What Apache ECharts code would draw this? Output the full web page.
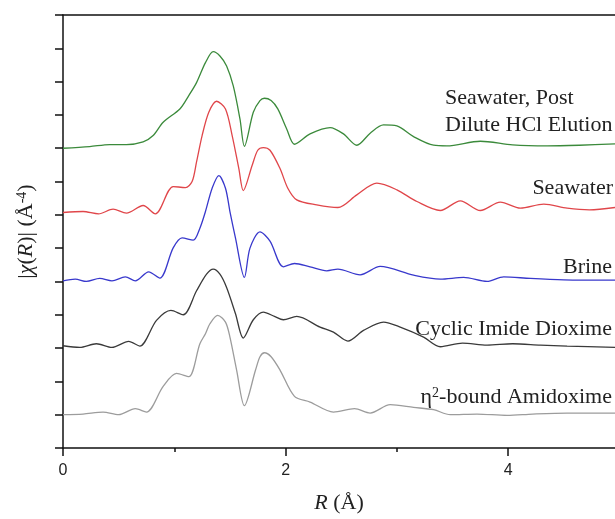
<!DOCTYPE html>
<html>
<head>
<meta charset="utf-8">
<script src="https://cdn.jsdelivr.net/npm/echarts@6/dist/echarts.min.js"></script>
<style>html,body{margin:0;padding:0;background:#fff}#c{width:615px;height:519px}</style>
</head>
<body>
<div id="c"></div>
<script>
// ---- data (values include the vertical stacking offset) ----
const seriesNames = ["Seawater, Post Dilute HCl Elution", "Seawater", "Brine", "Cyclic Imide Dioxime", "η2-bound Amidoxime"];

const greenR = [0, 0.24, 0.42, 0.57, 0.72, 0.81, 0.90, 1.05, 1.13, 1.20, 1.28, 1.35, 1.41, 1.47, 1.53, 1.59, 1.63, 1.71, 1.77, 1.81, 1.87, 1.93, 2.01, 2.08, 2.22, 2.40, 2.52, 2.64, 2.76, 2.88, 3.0, 3.15, 3.33, 3.45, 3.75, 4.04, 4.35, 4.64, 4.96];
const greenY = [9.0, 9.05, 9.11, 9.11, 9.19, 9.38, 9.78, 10.18, 10.58, 10.97, 11.57, 11.9, 11.77, 11.47, 10.87, 9.88, 9.06, 10.08, 10.43, 10.5, 10.43, 10.18, 9.58, 9.12, 9.43, 9.62, 9.43, 9.09, 9.45, 9.70, 9.67, 9.35, 9.09, 9.07, 9.21, 9.1, 9.07, 9.09, 9.13];

const redR = [0, 0.18, 0.32, 0.45, 0.57, 0.72, 0.83, 0.99, 1.10, 1.16, 1.20, 1.25, 1.31, 1.38, 1.46, 1.52, 1.58, 1.62, 1.70, 1.75, 1.80, 1.86, 1.95, 2.02, 2.10, 2.28, 2.47, 2.64, 2.82, 3.0, 3.18, 3.39, 3.57, 3.75, 3.93, 4.11, 4.32, 4.53, 4.73, 4.96];
const redY = [7.07, 7.10, 7.03, 7.17, 7.05, 7.28, 7.03, 7.85, 7.82, 8.0, 8.59, 9.38, 10.08, 10.41, 10.18, 9.38, 8.39, 7.73, 8.49, 8.94, 9.02, 8.94, 8.39, 7.8, 7.45, 7.30, 7.22, 7.6, 7.95, 7.75, 7.4, 7.13, 7.42, 7.13, 7.38, 7.2, 7.32, 7.2, 7.15, 7.22];

const blueR = [0, 0.11, 0.21, 0.33, 0.44, 0.56, 0.65, 0.77, 0.87, 0.99, 1.07, 1.17, 1.23, 1.28, 1.34, 1.40, 1.46, 1.50, 1.55, 1.63, 1.68, 1.77, 1.86, 1.98, 2.08, 2.22, 2.37, 2.47, 2.67, 2.85, 3.15, 3.39, 3.6, 3.81, 3.96, 4.2, 4.5, 4.96];
const blueY = [5.02, 5.07, 5.0, 5.09, 5.02, 5.14, 5.02, 5.29, 5.1, 6.01, 6.31, 6.24, 6.6, 7.1, 7.8, 8.18, 7.8, 7.1, 6.3, 5.12, 6.0, 6.49, 6.21, 5.44, 5.54, 5.44, 5.32, 5.37, 5.2, 5.45, 5.19, 5.07, 5.12, 5.0, 5.14, 5.09, 5.05, 5.04];

const blackR = [0, 0.15, 0.30, 0.44, 0.59, 0.69, 0.84, 0.97, 1.08, 1.20, 1.29, 1.35, 1.41, 1.47, 1.55, 1.62, 1.71, 1.80, 1.90, 1.98, 2.10, 2.31, 2.43, 2.56, 2.70, 2.88, 3.03, 3.24, 3.39, 3.59, 3.81, 4.04, 4.29, 4.53, 4.96];
const blackY = [3.07, 3.02, 3.13, 3.02, 3.2, 3.06, 3.83, 4.13, 4.0, 4.72, 5.22, 5.37, 5.22, 4.82, 4.03, 3.3, 3.85, 4.08, 3.95, 3.85, 3.95, 3.63, 3.48, 3.21, 3.53, 3.78, 3.63, 3.33, 3.04, 3.15, 3.09, 3.13, 3.09, 3.06, 3.02];

const grayR = [0, 0.18, 0.36, 0.5, 0.65, 0.75, 0.90, 1.02, 1.13, 1.23, 1.28, 1.32, 1.39, 1.46, 1.50, 1.56, 1.63, 1.73, 1.77, 1.81, 1.87, 1.95, 2.08, 2.22, 2.43, 2.62, 2.76, 2.94, 3.15, 3.33, 3.48, 3.72, 3.99, 4.22, 4.53, 4.96];
const grayY = [1.0, 1.02, 1.08, 1.0, 1.18, 1.08, 1.85, 2.24, 2.14, 3.13, 3.43, 3.73, 3.98, 3.78, 3.33, 2.34, 1.27, 2.34, 2.74, 2.86, 2.74, 2.34, 1.55, 1.38, 1.08, 1.18, 1.05, 1.3, 1.22, 1.15, 1.0, 1.02, 0.98, 1.02, 1.05, 1.05];

const xMajorTicks = [0, 2, 4];
const xMinorTicks = [1, 3];
const xMin = 0, xMax = 4.96, yMin = 0, yMax = 13;

// ---- chart ----
const pairs = (xs, ys) => xs.map((x, i) => [x, ys[i]]);
const colors = ["#3b8a3b", "#e0464a", "#3838cc", "#3a3a3a", "#9c9c9c"];
const allR = [greenR, redR, blueR, blackR, grayR];
const allY = [greenY, redY, blueY, blackY, grayY];

const serif = "'Liberation Serif', 'Times New Roman', serif";
const sans = "'Liberation Sans', Arial, sans-serif";
const axisCol = '#111';

const chart = echarts.init(document.getElementById('c'), null, {renderer: 'canvas'});
chart.setOption({
  animation: false,
  backgroundColor: '#fff',
  grid: {left: 63, right: 0, top: 15, bottom: 67, containLabel: false},
  xAxis: [{
    type: 'value', min: xMin, max: xMax, interval: 1, position: 'bottom',
    axisLine: {show: true, lineStyle: {color: axisCol, width: 1.5}},
    axisTick: {show: true, length: 8, customValues: xMajorTicks, lineStyle: {color: axisCol, width: 1.5}},
    splitLine: {show: false},
    axisLabel: {margin: 15, fontSize: 16, color: '#222', fontFamily: sans, customValues: xMajorTicks},
    name: '{i|R} (Å)', nameLocation: 'middle', nameGap: 44,
    nameTextStyle: {fontSize: 22, fontFamily: serif, color: '#222',
      rich: {i: {fontStyle: 'italic', fontSize: 22, fontFamily: serif, color: '#222'}}}
  }, {
    type: 'value', min: xMin, max: xMax, position: 'top',
    axisLine: {show: true, lineStyle: {color: axisCol, width: 1.5}},
    axisTick: {show: false}, axisLabel: {show: false}, splitLine: {show: false}
  }, {
    type: 'value', min: xMin, max: xMax, interval: 1, position: 'bottom', offset: 0,
    axisLine: {show: false},
    axisTick: {show: true, length: 4, customValues: xMinorTicks, lineStyle: {color: axisCol, width: 1.5}},
    axisLabel: {show: false}, splitLine: {show: false}
  }],
  yAxis: {
    type: 'value', min: yMin, max: yMax, interval: 1,
    axisLine: {show: true, lineStyle: {color: axisCol, width: 1.5}},
    axisTick: {show: true, length: 8, lineStyle: {color: axisCol, width: 1.5}},
    axisLabel: {show: false},
    splitLine: {show: false},
    name: '|{i|χ}({i|R})| (Å{sup|-4})', nameLocation: 'middle', nameGap: 26, nameRotate: 90,
    nameTextStyle: {fontSize: 22, fontFamily: serif, color: '#222',
      rich: {
        i: {fontStyle: 'italic', fontSize: 22, fontFamily: serif, color: '#222'},
        sup: {fontSize: 14, fontFamily: serif, color: '#222', verticalAlign: 'top'}
      }}
  },
  series: seriesNames.map((n, k) => ({
    name: n, type: 'line', xAxisIndex: 0,
    data: pairs(allR[k], allY[k]),
    smooth: 0.3, symbol: 'none',
    lineStyle: {color: colors[k], width: 1.3}
  })),
  graphic: [
    {type: 'text', x: 445, y: 98, style: {text: 'Seawater, Post', fontSize: 22, fontFamily: serif, fill: '#222', textAlign: 'left', textVerticalAlign: 'middle'}},
    {type: 'text', x: 445, y: 125, style: {text: 'Dilute HCl Elution', fontSize: 22, fontFamily: serif, fill: '#222', textAlign: 'left', textVerticalAlign: 'middle'}},
    {type: 'text', x: 613, y: 188, style: {text: 'Seawater', fontSize: 22, fontFamily: serif, fill: '#222', textAlign: 'right', textVerticalAlign: 'middle'}},
    {type: 'text', x: 612, y: 267, style: {text: 'Brine', fontSize: 22, fontFamily: serif, fill: '#222', textAlign: 'right', textVerticalAlign: 'middle'}},
    {type: 'text', x: 612, y: 329, style: {text: 'Cyclic Imide Dioxime', fontSize: 22, fontFamily: serif, fill: '#222', textAlign: 'right', textVerticalAlign: 'middle'}},
    {type: 'text', x: 612, y: 397, style: {text: '{n|η}{sup|2}{n|-bound Amidoxime}', textAlign: 'right', textVerticalAlign: 'middle',
      rich: {n: {fontSize: 22, fontFamily: serif, fill: '#222', color: '#222'},
             sup: {fontSize: 14, fontFamily: serif, fill: '#222', color: '#222', verticalAlign: 'top'}}}}
  ]
});
</script>
</body>
</html>
